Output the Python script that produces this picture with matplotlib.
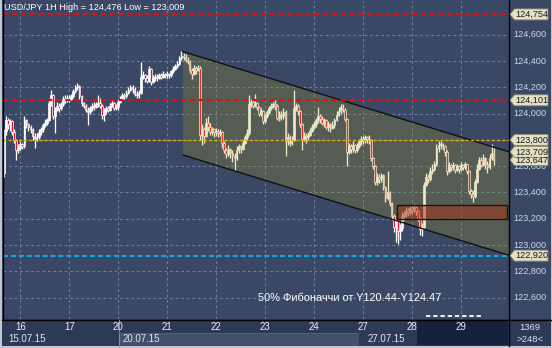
import matplotlib
matplotlib.use("Agg")
import matplotlib.pyplot as plt
import matplotlib.transforms as mtransforms
from matplotlib.patches import Polygon, Rectangle
from matplotlib.lines import Line2D
import numpy as np

plt.rcParams['font.family'] = ['Liberation Sans', 'DejaVu Sans']

W, H = 552, 348

title = "USD/JPY 1H High = 124,476 Low = 123,009"
fib_text = "50% Фибоначчи от Y120.44-Y124.47"

day_labels = ["16", "17", "20", "21", "22", "23", "24", "27", "28", "29"]
day_start_index = [8, 32, 56, 80, 104, 128, 152, 176, 200, 224]
week_labels = ["15.07.15", "20.07.15", "27.07.15"]
bar_count_text = ["1369", ">248<"]

first_open = 123.55
closes = [
    # 15.07 16h-23h
    123.87, 123.95, 123.92, 123.94, 123.86, 123.80, 123.72, 123.74,
    # 16.07
    123.77, 123.75, 123.95, 123.92, 123.90, 123.88, 123.83, 123.81, 123.82, 123.86, 123.88, 123.91,
    123.93, 123.95, 124.08, 124.14, 123.98, 124.03, 124.06, 124.04, 124.07, 124.11, 124.10, 124.12,
    # 17.07
    124.11, 124.13, 124.17, 124.20, 124.21, 124.13, 124.08, 124.06, 124.03, 124.01, 124.04, 124.06,
    124.05, 124.07, 124.08, 124.06, 123.99, 124.02, 124.04, 124.03, 124.06, 124.08, 124.04, 124.05,
    # 20.07
    124.09, 124.11, 124.14, 124.13, 124.16, 124.18, 124.20, 124.19, 124.15, 124.14, 124.16, 124.28,
    124.29, 124.27, 124.25, 124.34, 124.24, 124.27, 124.28, 124.27, 124.29, 124.28, 124.30, 124.29,
    # 21.07
    124.30, 124.29, 124.32, 124.34, 124.36, 124.38, 124.42, 124.44, 124.43, 124.41, 124.40, 124.33,
    124.30, 124.35, 124.33, 124.35, 123.84, 123.88, 123.83, 123.93, 123.90, 123.86, 123.88, 123.86,
    # 22.07
    123.87, 123.85, 123.86, 123.78, 123.72, 123.69, 123.73, 123.70, 123.68, 123.66, 123.72, 123.75,
    123.73, 123.78, 123.82, 123.85, 124.07, 124.09, 124.06, 124.08, 124.05, 124.00, 124.02, 123.94,
    # 23.07
    123.98, 124.01, 124.04, 124.06, 124.07, 124.06, 123.97, 124.00, 123.98, 124.01, 123.79, 123.82,
    123.78, 123.80, 124.04, 124.06, 124.02, 123.92, 123.81, 123.83, 123.82, 123.84, 123.87, 123.90,
    # 24.07
    123.92, 123.95, 123.98, 123.96, 123.93, 123.95, 123.90, 123.92, 123.89, 123.91, 123.95, 123.99,
    124.02, 124.05, 124.03, 123.96, 123.71, 123.75, 123.73, 123.76, 123.72, 123.75, 123.79, 123.81,
    # 27.07
    123.80, 123.82, 123.81, 123.80, 123.66, 123.60, 123.48, 123.52, 123.50, 123.53, 123.44, 123.36,
    123.40, 123.32, 123.22, 123.14, 123.18, 123.11, 123.13, 123.22, 123.24, 123.27, 123.25, 123.28,
    # 28.07
    123.27, 123.29, 123.26, 123.20, 123.12, 123.14, 123.46, 123.52, 123.50, 123.56, 123.58, 123.62,
    123.74, 123.76, 123.77, 123.75, 123.71, 123.56, 123.61, 123.59, 123.61, 123.57, 123.60, 123.58,
    # 29.07 0h-16h
    123.61, 123.59, 123.62, 123.56, 123.41, 123.39, 123.37, 123.48, 123.58, 123.65, 123.61, 123.66,
    123.62, 123.59, 123.66, 123.70, 123.65,
]
highs = [
    123.88, 123.98, 123.97, 123.96, 123.95, 123.88, 123.81, 123.77,
    123.79, 123.78, 123.98, 123.96, 123.93, 123.91, 123.89, 123.85, 123.85, 123.88, 123.90, 123.93,
    123.96, 123.97, 124.10, 124.18, 124.15, 124.05, 124.09, 124.08, 124.09, 124.13, 124.14, 124.14,
    124.14, 124.15, 124.19, 124.22, 124.23, 124.22, 124.14, 124.09, 124.07, 124.05, 124.06, 124.08,
    124.09, 124.09, 124.14, 124.12, 124.07, 124.04, 124.06, 124.06, 124.08, 124.10, 124.09, 124.07,
    124.11, 124.13, 124.16, 124.16, 124.18, 124.20, 124.22, 124.22, 124.20, 124.17, 124.18, 124.39,
    124.32, 124.30, 124.29, 124.36, 124.35, 124.29, 124.30, 124.30, 124.31, 124.31, 124.32, 124.31,
    124.32, 124.31, 124.33, 124.36, 124.38, 124.40, 124.44, 124.476, 124.46, 124.45, 124.43, 124.41,
    124.35, 124.37, 124.36, 124.37, 124.36, 123.92, 123.90, 123.97, 123.98, 123.93, 123.90, 123.89,
    123.89, 123.88, 123.88, 123.87, 123.79, 123.74, 123.76, 123.74, 123.72, 123.70, 123.75, 123.77,
    123.76, 123.80, 123.84, 123.88, 124.14, 124.11, 124.10, 124.15, 124.09, 124.06, 124.04, 124.03,
    124.00, 124.03, 124.06, 124.08, 124.09, 124.10, 124.07, 124.02, 124.02, 124.04, 124.03, 123.85,
    123.84, 123.83, 124.18, 124.08, 124.07, 124.03, 123.93, 123.86, 123.85, 123.86, 123.89, 123.92,
    123.94, 123.97, 124.05, 124.00, 123.98, 123.97, 123.96, 123.94, 123.93, 123.94, 123.97, 124.02,
    124.05, 124.07, 124.07, 124.04, 123.97, 123.78, 123.77, 123.79, 123.77, 123.78, 123.81, 123.83,
    123.83, 123.84, 123.83, 123.84, 123.81, 123.67, 123.61, 123.55, 123.54, 123.55, 123.54, 123.45,
    123.56, 123.41, 123.33, 123.24, 123.20, 123.19, 123.16, 123.25, 123.26, 123.29, 123.28, 123.30,
    123.30, 123.31, 123.30, 123.27, 123.21, 123.17, 123.48, 123.55, 123.54, 123.59, 123.62, 123.64,
    123.77, 123.79, 123.79, 123.78, 123.76, 123.72, 123.63, 123.62, 123.63, 123.62, 123.62, 123.61,
    123.63, 123.62, 123.63, 123.62, 123.57, 123.43, 123.42, 123.50, 123.62, 123.67, 123.67, 123.69,
    123.67, 123.64, 123.69, 123.77, 123.74,
]
lows = [
    123.52, 123.84, 123.88, 123.87, 123.84, 123.78, 123.65, 123.70,
    123.72, 123.73, 123.74, 123.89, 123.87, 123.85, 123.80, 123.74, 123.79, 123.81, 123.84, 123.86,
    123.90, 123.91, 123.94, 124.06, 123.96, 123.85, 124.02, 124.01, 124.03, 124.06, 124.08, 124.09,
    124.09, 124.10, 124.12, 124.16, 124.18, 124.11, 124.06, 124.04, 124.01, 123.91, 124.00, 124.02,
    124.03, 124.04, 124.05, 124.04, 123.96, 123.94, 124.00, 124.01, 124.02, 124.05, 124.03, 124.03,
    124.03, 124.08, 124.10, 124.11, 124.12, 124.15, 124.17, 124.16, 124.13, 124.12, 124.12, 124.15,
    124.26, 124.24, 124.23, 124.24, 124.22, 124.23, 124.25, 124.25, 124.26, 124.26, 124.27, 124.27,
    124.27, 124.27, 124.28, 124.31, 124.33, 124.35, 124.37, 124.41, 124.41, 124.39, 124.38, 124.31,
    124.26, 124.29, 124.30, 124.32, 123.80, 123.76, 123.78, 123.82, 123.87, 123.84, 123.84, 123.82,
    123.83, 123.82, 123.83, 123.74, 123.70, 123.66, 123.68, 123.66, 123.63, 123.57, 123.65, 123.70,
    123.70, 123.72, 123.77, 123.80, 123.84, 124.05, 124.04, 124.05, 124.03, 123.98, 123.98, 123.92,
    123.93, 123.97, 124.00, 124.03, 124.04, 124.03, 123.95, 123.94, 123.95, 123.96, 123.68, 123.76,
    123.75, 123.76, 123.79, 124.02, 123.99, 123.90, 123.72, 123.79, 123.78, 123.80, 123.83, 123.86,
    123.88, 123.90, 123.93, 123.93, 123.91, 123.90, 123.88, 123.87, 123.86, 123.88, 123.89, 123.94,
    123.98, 124.00, 124.01, 123.94, 123.60, 123.69, 123.70, 123.71, 123.70, 123.71, 123.74, 123.76,
    123.77, 123.78, 123.78, 123.77, 123.64, 123.58, 123.46, 123.46, 123.47, 123.48, 123.42, 123.33,
    123.34, 123.30, 123.19, 123.10, 123.02, 123.009, 123.04, 123.11, 123.19, 123.21, 123.22, 123.23,
    123.24, 123.25, 123.23, 123.18, 123.08, 123.07, 123.12, 123.45, 123.47, 123.49, 123.54, 123.56,
    123.60, 123.71, 123.73, 123.72, 123.68, 123.53, 123.55, 123.56, 123.57, 123.55, 123.56, 123.55,
    123.56, 123.57, 123.58, 123.54, 123.39, 123.36, 123.33, 123.36, 123.47, 123.57, 123.59, 123.60,
    123.58, 123.55, 123.58, 123.65, 123.61,
]

y_ticks = [122.6, 122.8, 123.0, 123.2, 123.4, 123.6, 123.8, 124.0, 124.2, 124.4, 124.6]
# 123,800 is covered by its price tag in the reference, so its plain label is not drawn
y_tick_labels_shown = [122.6, 122.8, 123.0, 123.2, 123.4, 123.6, 124.0, 124.2, 124.4, 124.6]
red_levels = [124.754, 124.101]
gold_level = 123.800
cyan_level = 122.920
tag_values = [124.754, 124.101, 122.920, 123.647, 123.709, 123.800]

channel_x = [87.75, 247.6]
channel_top = [124.471, 123.709]
channel_bottom = [123.685, 122.922]

zone_x = [192.7, 246.6]
zone_price = [123.200, 123.305]

# ---------------------------------------------------------------
fig = plt.figure(figsize=(W / 100, H / 100), dpi=100)
fig.patch.set_facecolor('#c3c7cf')
pxT = mtransforms.Affine2D().scale(1 / W, -1 / H).translate(0, 1) + fig.transFigure

BG = '#3b4865'
STRIP = '#2d3a55'


def prect(x, y, w, h, z=-5, **kw):
    r = Rectangle((x, y), w, h, transform=pxT, zorder=z, **kw)
    fig.add_artist(r)
    return r


def pline(xs, ys, z=8, **kw):
    ln = Line2D(xs, ys, transform=pxT, zorder=z, **kw)
    fig.add_artist(ln)
    return ln


prect(2, 0, 549, 346, fc=BG, ec='none')
prect(2, 319, 549, 27, fc=STRIP, ec='none', z=-4)
prect(119, 333, 240, 13, fc='#435069', ec='none', z=-3)
prect(417, 321, 91, 24, fc='#15203b', ec='none', z=-2)

ax = fig.add_axes([3 / W, (H - 319) / H, 506 / W, 318 / H])
ax.set_facecolor(BG)
for s in ax.spines.values():
    s.set_visible(False)
ax.set_xlim(-0.48, 247.55)
ax.set_ylim(122.438, 124.856)
ax.set_yticks(y_ticks)
ax.set_xticks(day_start_index)
ax.tick_params(left=False, bottom=False, labelleft=False, labelbottom=False)
ax.grid(True, color='#6c7c9d', linestyle=(0, (2.5, 2.5)), linewidth=0.8, zorder=1)
ax.set_axisbelow(True)

# candles
idx = np.arange(len(closes))
c = np.array(closes)
hi = np.array(highs)
lo = np.array(lows)
o = np.concatenate([[first_open], c[:-1]])
bull = c >= o
bottoms = np.minimum(o, c)
heights = np.maximum(np.abs(c - o), 0.006)
fills = np.where(bull, '#ffffff', '#e8132b')
ax.vlines(idx, lo, hi, color='white', lw=0.95, zorder=3)
ax.bar(idx, heights, bottom=bottoms, width=0.85, color=fills,
       edgecolor='white', linewidth=0.5, zorder=4)

# channel overlay
ax.fill([channel_x[0], channel_x[1], channel_x[1], channel_x[0]],
        [channel_top[0], channel_top[1], channel_bottom[1], channel_bottom[0]],
        color='#a8a21c', alpha=0.23, lw=0, zorder=5)
ax.plot(channel_x, channel_top, color='#101010', lw=1.0, zorder=6)
ax.plot(channel_x, channel_bottom, color='#101010', lw=1.0, zorder=6)

# zone rectangle
ax.add_patch(Rectangle((zone_x[0], zone_price[0]), zone_x[1] - zone_x[0],
                       zone_price[1] - zone_price[0],
                       facecolor=(0.68, 0.2, 0.11, 0.5), edgecolor='#1b120a',
                       lw=1.0, zorder=6))

# horizontal levels
for lv in red_levels:
    ax.axhline(lv, color='#e01010', lw=1.6, dashes=(2.2, 1.8), zorder=7)
ax.axhline(gold_level, color='#e4a800', lw=1.0, dashes=(2.2, 1.5), zorder=7)
ax.axhline(cyan_level, color='#15a9e2', lw=1.5, dashes=(2.4, 1.4), zorder=7)

# frame lines
pline([509, 509], [0, 346], color='black', lw=1.0)
pline([2, 551], [319.5, 319.5], color='black', lw=1.0)
pline([2.5, 2.5], [0, 319], color='black', lw=1.0)
pline([119, 119], [320, 346], color='#7f8ca8', lw=0.8)
pline([119, 359], [333, 333], color='#56627d', lw=0.6)

# right price labels
blendY = mtransforms.blended_transform_factory(pxT, ax.transData)
for t in y_tick_labels_shown:
    fig.text(513, t, f"{t:.3f}".replace('.', ','), transform=blendY,
             color='#c9d6ee', fontsize=6.6, va='center', ha='left', zorder=6)

dh = 5.5 / 131.5
for v in tag_values:
    poly = Polygon([(510, v), (514.5, v + dh), (548, v + dh), (548, v - dh), (514.5, v - dh)],
                   closed=True, transform=blendY, facecolor='#e4e0c4',
                   edgecolor='#8a8670', lw=0.6, zorder=10)
    fig.add_artist(poly)
    fig.text(531.5, v, f"{v:.3f}".replace('.', ','), transform=blendY,
             color='#1a1a1a', fontsize=6.6, va='center', ha='center', zorder=11)

# bottom time labels
blendX = mtransforms.blended_transform_factory(ax.transData, pxT)
for d, lab in zip(day_start_index, day_labels):
    fig.text(d, 327, lab, transform=blendX, color='#e8eef8', fontsize=7.0,
             va='center', ha='center', zorder=9)
for xw, lab in zip([8, 123, 368], week_labels):
    fig.text(xw, 339.5, lab, transform=pxT, color='#e0e6f0', fontsize=7.0,
             va='center', ha='left', zorder=9)
fig.text(530, 327, bar_count_text[0], transform=pxT, color='#d8e0f0', fontsize=6.8,
         va='center', ha='center', zorder=9)
fig.text(530, 340, bar_count_text[1], transform=pxT, color='#d8e0f0', fontsize=6.8,
         va='center', ha='center', zorder=9)

# title and annotation
fig.text(4, 8, title, transform=pxT, color='white', fontsize=6.6,
         va='center', ha='left', zorder=12)
fig.text(258, 298, fib_text, transform=pxT, color='white', fontsize=7.9,
         va='center', ha='left', zorder=12)
pline([426, 481], [316, 316], color='white', lw=1.3, dashes=(2.4, 1.6), z=9)

fig.savefig('out.png', dpi=100, facecolor=fig.get_facecolor())
